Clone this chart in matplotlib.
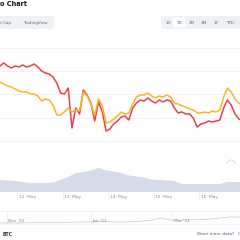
import matplotlib
matplotlib.use("Agg")
import matplotlib.pyplot as plt
import matplotlib.dates as mdates
from matplotlib.patches import FancyBboxPatch, Circle
from matplotlib.transforms import ScaledTranslation
import numpy as np
import pandas as pd

# main chart, sampled every 2 hours from 11 May 15:00
times = pd.date_range("2021-05-11 15:00", periods=65, freq="2h")
red_series = [134, 137, 134, 132, 134, 133, 135, 133, 134, 136, 133, 129, 127, 126, 123, 117,
              107, 106, 112, 72, 92, 86, 110, 105, 97, 79, 98, 88, 69, 71, 76, 79,
              83, 84, 80, 92, 97, 100, 99, 102, 99, 97, 100, 98, 100, 99, 92, 87,
              88, 86, 86, 82, 73, 76, 77, 79, 78, 79, 80, 92, 100, 95, 86, 81, 79]
orange_series = [118, 116, 114, 113, 111, 109, 108, 108, 106, 106, 104, 99, 101, 100, 95, 85,
                 85, 88, 92, 88, 90, 89, 108, 104, 96, 85, 101, 94, 77, 78, 81, 84,
                 88, 86, 87, 96, 103, 105, 105, 107, 104, 102, 104, 103, 105, 103, 97, 96,
                 94, 93, 91, 90, 87, 87, 88, 87, 89, 88, 90, 103, 112, 108, 101, 97, 95]

# volume, every 4 hours
vol_times = pd.date_range("2021-05-11 15:00", periods=33, freq="4h")
volume = [12, 11.5, 11, 10, 9, 9, 9, 9.5, 12, 15, 19, 20, 21.5, 24, 21.5, 20.5, 19,
          16.5, 15.5, 14.5, 12.5, 12, 11.5, 11, 8, 8, 8, 8, 8, 8, 10, 10, 10]

day_ticks = pd.date_range("2021-05-12", periods=5, freq="D")
day_labels = ["12. May", "13. May", "14. May", "15. May", "16. May"]

# navigator
nav_times = pd.to_datetime(["2020-10-27", "2020-11-10", "2020-11-25", "2020-12-10", "2020-12-25",
                            "2021-01-08", "2021-01-22", "2021-02-05", "2021-02-15", "2021-02-20",
                            "2021-02-28", "2021-03-10", "2021-03-25", "2021-04-05", "2021-04-12",
                            "2021-04-20"])
nav_values = [1, 1, 1.5, 1.5, 2, 2.5, 2, 2.5, 4, 6, 4, 4, 4.5, 6, 7, 7]
nav_ticks = pd.to_datetime(["2020-11-01", "2021-01-01", "2021-03-01"])
nav_labels = ["Nov '20", "Jan '21", "Mar '21"]

range_buttons = ["1D", "7D", "1M", "3M", "1Y", "YTD"]
tabs = ["Market Cap", "TradingView"]

W = 240.0


def fx(x):
    return x / W


def fy(y):
    return 1 - y / W


fig = plt.figure(figsize=(2.4, 2.4), dpi=100)
fig.patch.set_facecolor("white")

gray = "#58667e"
light = "#808a9d"

# header
fig.text(fx(-0.5), fy(4), "o Chart", fontsize=4.7, fontweight="bold", color="#0d1421",
         ha="left", va="center")

tab_box = FancyBboxPatch((fx(-6), fy(29)), fx(60), fx(13), boxstyle="round,pad=0,rounding_size=0.012",
                         transform=fig.transFigure, facecolor="#eff2f5", edgecolor="none")
fig.patches.append(tab_box)
fig.text(fx(10.5), fy(23), tabs[0], fontsize=2.9, color=gray, ha="right", va="center")
fig.text(fx(23), fy(23), tabs[1], fontsize=2.9, color=gray, ha="left", va="center")

btn_box = FancyBboxPatch((fx(161), fy(29)), fx(85), fx(13), boxstyle="round,pad=0,rounding_size=0.012",
                         transform=fig.transFigure, facecolor="#eff2f5", edgecolor="none")
fig.patches.append(btn_box)
sel_box = FancyBboxPatch((fx(173), fy(27.5)), fx(12.5), fx(10), boxstyle="round,pad=0,rounding_size=0.01",
                         transform=fig.transFigure, facecolor="white", edgecolor="none")
fig.patches.append(sel_box)
for label, bx in zip(range_buttons, [168.5, 179.3, 191.5, 204, 216, 230.5]):
    fig.text(fx(bx), fy(22.5), label, fontsize=3.0, color=gray, ha="center", va="center")

xmin = mdates.date2num(pd.Timestamp("2021-05-12")) - 17 / 45.5
xmax = mdates.date2num(pd.Timestamp("2021-05-12")) + 223 / 45.5

# price lines
ax = fig.add_axes([0, fy(164), 1, 116 / W])
ax.plot(times, red_series, color="#e5404f", lw=1.1, zorder=3)
ax.plot(times, orange_series, color="#f8b623", lw=1.1, zorder=4)
ax.set_xlim(xmin, xmax)
ax.set_ylim(36, 152)
ax.set_yticks(np.linspace(36, 152, 6))
ax.grid(axis="y", color="#efefef", lw=0.6)
ax.tick_params(left=False, bottom=False, labelleft=False, labelbottom=False)
for s in ax.spines.values():
    s.set_visible(False)
ax.add_patch(Circle((fx(231), fy(164)), 4 / W, transform=fig.transFigure, fill=False,
                    edgecolor="#d3d8e3", lw=0.6, clip_on=False))

# volume
axv = fig.add_axes([0, fy(192), 1, 28 / W])
axv.fill_between(vol_times, volume, 0, color="#d6dbe9", lw=0)
axv.set_xlim(xmin, xmax)
axv.set_ylim(0, 28)
axv.set_yticks([])
axv.set_xticks(day_ticks)
axv.set_xticklabels(day_labels)
axv.tick_params(axis="x", direction="out", length=6.5, width=0.5, color="#e6e8ec",
                pad=-4.3, labelsize=3.1, labelcolor=light)
off = ScaledTranslation(1.8 / 100, 0, fig.dpi_scale_trans)
for lbl in axv.get_xticklabels():
    lbl.set_horizontalalignment("left")
    lbl.set_verticalalignment("top")
    lbl.set_transform(lbl.get_transform() + off)
for s in axv.spines.values():
    s.set_visible(False)

# navigator
axn = fig.add_axes([0, fy(224), 1, 13 / W])
nav0 = mdates.date2num(pd.Timestamp("2020-11-01"))
axn.plot(nav_times, nav_values, color="#c9cfdc", lw=0.6)
axn.set_xlim(nav0 - 7 / 1.375, nav0 + 233 / 1.375)
axn.set_ylim(0, 13)
axn.set_yticks([])
axn.set_xticks(nav_ticks)
axn.tick_params(bottom=False, labelbottom=False)
axn.grid(axis="x", color="#ebebeb", lw=0.5)
for t, lab in zip(nav_ticks, nav_labels):
    axn.text(t, 0.23, lab, transform=axn.get_xaxis_transform() + ScaledTranslation(1.5 / 100, 0, fig.dpi_scale_trans),
             fontsize=3.1, color=light, ha="left", va="center")
for k, s in axn.spines.items():
    if k in ("top", "bottom"):
        s.set_color("#f0f0f0")
        s.set_linewidth(0.5)
    else:
        s.set_visible(False)

# footer
fig.text(fx(3), fy(234), "BTC", fontsize=3.3, fontweight="bold", color="#333a45", ha="left", va="center")
fig.text(fx(197), fy(234), "Want more data?", fontsize=3.2, color=gray, ha="left", va="center")
fig.text(fx(238), fy(234), "Get our API", fontsize=3.2, color="#3861fb", ha="left", va="center")

fig.savefig("out.png", dpi=100, facecolor="white")
